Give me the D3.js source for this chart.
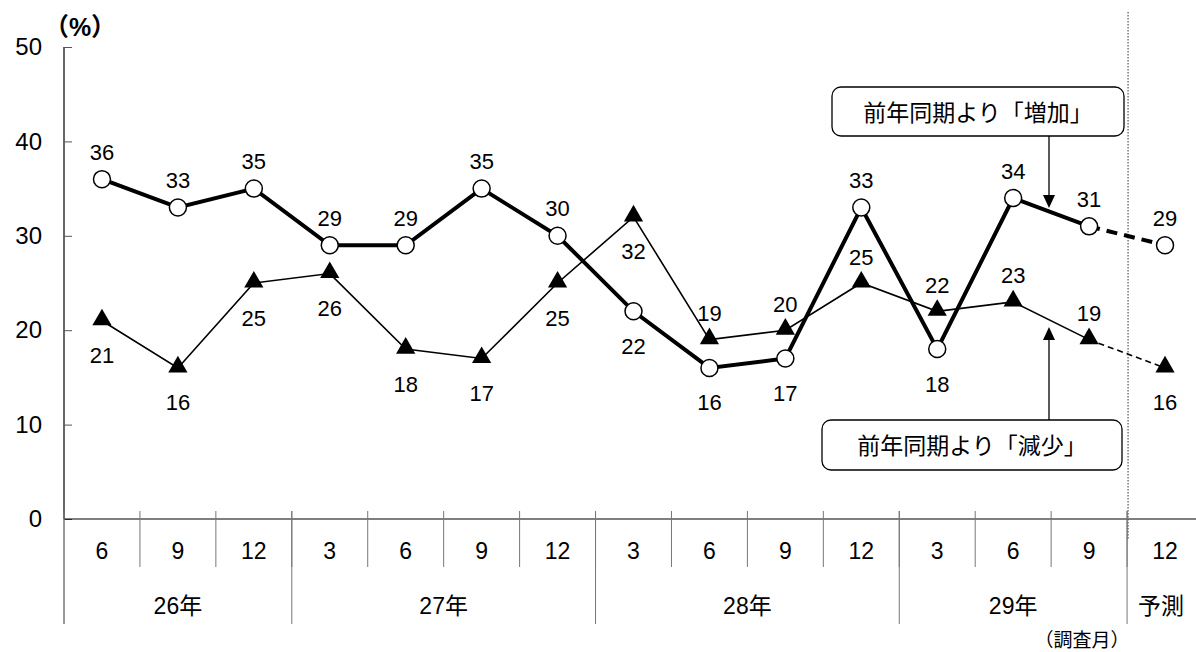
<!DOCTYPE html>
<html lang="ja">
<head>
<meta charset="UTF-8">
<title>前年同期比</title>
<style>
  body { margin: 0; background: #fff; }
  svg { display: block; font-family: "Liberation Sans", "Noto Sans CJK JP", sans-serif; }
  .line-up { fill: none; stroke: #000; stroke-width: 4px; }
  .line-down { fill: none; stroke: #000; stroke-width: 1.6px; }
</style>
<script src="https://d3js.org/d3.v7.min.js"></script>
</head>
<body>
<div id="chart"></div>
<script>
// survey months and year groups
const months = ["6", "9", "12", "3", "6", "9", "12", "3", "6", "9", "12", "3", "6", "9", "12"];
const years = ["26年", "27年", "28年", "29年", "予測"];
const yearSpan = [3, 4, 4, 3, 1];

// 前年同期より「増加」 / 「減少」 (last value is forecast)
const increase = [36, 33, 35, 29, 29, 35, 30, 22, 16, 17, 33, 18, 34, 31, 29];
const decrease = [21, 16, 25, 26, 18, 17, 25, 32, 19, 20, 25, 22, 23, 19, 16];
// label side: a = above, b = below
const increasePos = ["a", "a", "a", "a", "a", "a", "a", "b", "b", "b", "a", "b", "a", "a", "a"];
const decreasePos = ["b", "b", "b", "b", "b", "b", "b", "b", "a", "a", "a", "a", "a", "a", "b"];
const yTicks = [0, 10, 20, 30, 40, 50];

const W = 1196, H = 652;
const svg = d3.select("#chart").append("svg").attr("width", W).attr("height", H);

const x = d3.scaleBand().domain(d3.range(months.length)).range([64, 1203]);
const y = d3.scaleLinear().domain([0, 50]).range([519, 47]);
const cx = i => x(i) + x.bandwidth() / 2;
const nActual = months.length - 1;

// y axis (ticks point inward)
const yAxis = svg.append("g")
  .attr("transform", "translate(64,0)")
  .call(d3.axisLeft(y).tickValues(yTicks).tickSize(-8).tickPadding(22));
yAxis.select(".domain").attr("stroke", "#000").attr("stroke-width", 1.2).attr("d", "M0," + y(50) + "V" + y(0));
yAxis.selectAll(".tick line").attr("stroke", "#555");
yAxis.selectAll("text").attr("font-size", 24).attr("fill", "#000");

// x axis base line
svg.append("line").attr("x1", 64).attr("x2", W).attr("y1", y(0)).attr("y2", y(0))
  .attr("stroke", "#000").attr("stroke-width", 1.2);

// month separators
svg.append("g").selectAll("line").data(d3.range(1, months.length)).join("line")
  .attr("x1", i => x(i)).attr("x2", i => x(i))
  .attr("y1", 511).attr("y2", 567)
  .attr("stroke", "#777").attr("stroke-width", 1);

// year separators
let acc = 0;
const yearStart = yearSpan.map(s => { const v = acc; acc += s; return v; });
svg.append("g").selectAll("line").data(yearStart).join("line")
  .attr("x1", i => x(i)).attr("x2", i => x(i))
  .attr("y1", 511).attr("y2", 624)
  .attr("stroke", "#777").attr("stroke-width", 1);

svg.append("line").attr("x1", 64).attr("x2", 64).attr("y1", y(0)).attr("y2", 624)
  .attr("stroke", "#777");

// month labels
svg.append("g").selectAll("text").data(months).join("text")
  .attr("x", (d, i) => cx(i)).attr("y", 551)
  .attr("text-anchor", "middle").attr("dominant-baseline", "central")
  .attr("font-size", 23).text(d => d);

// year labels (forecast sits in its own column)
svg.append("g").selectAll("text").data(years).join("text")
  .attr("x", (d, i) => (x(yearStart[i]) + x(yearStart[i] + yearSpan[i] - 1) + x.bandwidth()) / 2 - (d === "予測" ? 4 : 0))
  .attr("y", 606)
  .attr("text-anchor", "middle").attr("dominant-baseline", "central")
  .attr("font-size", 23).text(d => d);

svg.append("text").attr("x", 1082).attr("y", 640)
  .attr("text-anchor", "middle").attr("dominant-baseline", "central")
  .attr("font-size", 19).text("（調査月）");
svg.append("text").attr("x", 80).attr("y", 27)
  .attr("text-anchor", "middle").attr("dominant-baseline", "central")
  .attr("font-size", 25).attr("font-weight", "bold").text("（%）");

// forecast divider
svg.append("line").attr("x1", x(14) + 1).attr("x2", x(14) + 1).attr("y1", 12).attr("y2", 540)
  .attr("stroke", "#555").attr("stroke-width", 1.2).attr("stroke-dasharray", "1.5,1.5");

const line = d3.line().x((d, i) => cx(i)).y(d => y(d));
const lineF = d3.line().x(d => cx(d[0])).y(d => y(d[1]));

// decrease series (thin, triangles)
svg.append("path").datum(decrease.slice(0, nActual)).attr("class", "line-down").attr("d", line);
svg.append("path").datum([[nActual - 1, decrease[nActual - 1]], [nActual, decrease[nActual]]])
  .attr("class", "line-down").attr("stroke-dasharray", "6,4").attr("d", lineF);

// increase series (thick, circles)
svg.append("path").datum(increase.slice(0, nActual)).attr("class", "line-up").attr("d", line);
svg.append("path").datum([[nActual - 1, increase[nActual - 1]], [nActual, increase[nActual]]])
  .attr("class", "line-up").attr("stroke-dasharray", "11,7").attr("d", lineF);

const tri = d3.symbol().type(d3.symbolTriangle).size(160);
svg.append("g").selectAll("path").data(decrease).join("path")
  .attr("d", tri)
  .attr("transform", (d, i) => "translate(" + cx(i) + "," + (y(d) - 1) + ")")
  .attr("fill", "#000");

svg.append("g").selectAll("circle").data(increase).join("circle")
  .attr("cx", (d, i) => cx(i)).attr("cy", d => y(d)).attr("r", 8.5)
  .attr("fill", "#fff").attr("stroke", "#000").attr("stroke-width", 1.5);

// value labels
function labels(data, pos, above, below) {
  svg.append("g").selectAll("text").data(data).join("text")
    .attr("x", (d, i) => cx(i))
    .attr("y", (d, i) => y(d) + (pos[i] === "a" ? above : below))
    .attr("text-anchor", "middle").attr("dominant-baseline", "central")
    .attr("font-size", 22).text(d => d);
}
labels(increase, increasePos, -27, 35);
labels(decrease, decreasePos, -26, 35);

// callouts
function callout(x0, y0, w, h, text, ax, ay1, ay2) {
  const g = svg.append("g");
  g.append("rect").attr("x", x0).attr("y", y0).attr("width", w).attr("height", h)
    .attr("rx", 9).attr("fill", "#fff").attr("stroke", "#000").attr("stroke-width", 1.3);
  g.append("text").attr("x", x0 + w / 2).attr("y", y0 + h / 2 + 1)
    .attr("text-anchor", "middle").attr("dominant-baseline", "central")
    .attr("font-size", 23).text(text);
  const dir = ay2 > ay1 ? 1 : -1;
  g.append("line").attr("x1", ax).attr("x2", ax).attr("y1", ay1).attr("y2", ay2 - dir * 12)
    .attr("stroke", "#000").attr("stroke-width", 1.3);
  g.append("path")
    .attr("d", "M" + (ax - 6) + "," + (ay2 - dir * 13) + "L" + (ax + 6) + "," + (ay2 - dir * 13) + "L" + ax + "," + ay2 + "Z")
    .attr("fill", "#000");
}
callout(832, 87, 292, 49, "前年同期より「増加」", 1049, 136, 208);
callout(822, 420, 300, 50, "前年同期より「減少」", 1049, 420, 327);
</script>
</body>
</html>
